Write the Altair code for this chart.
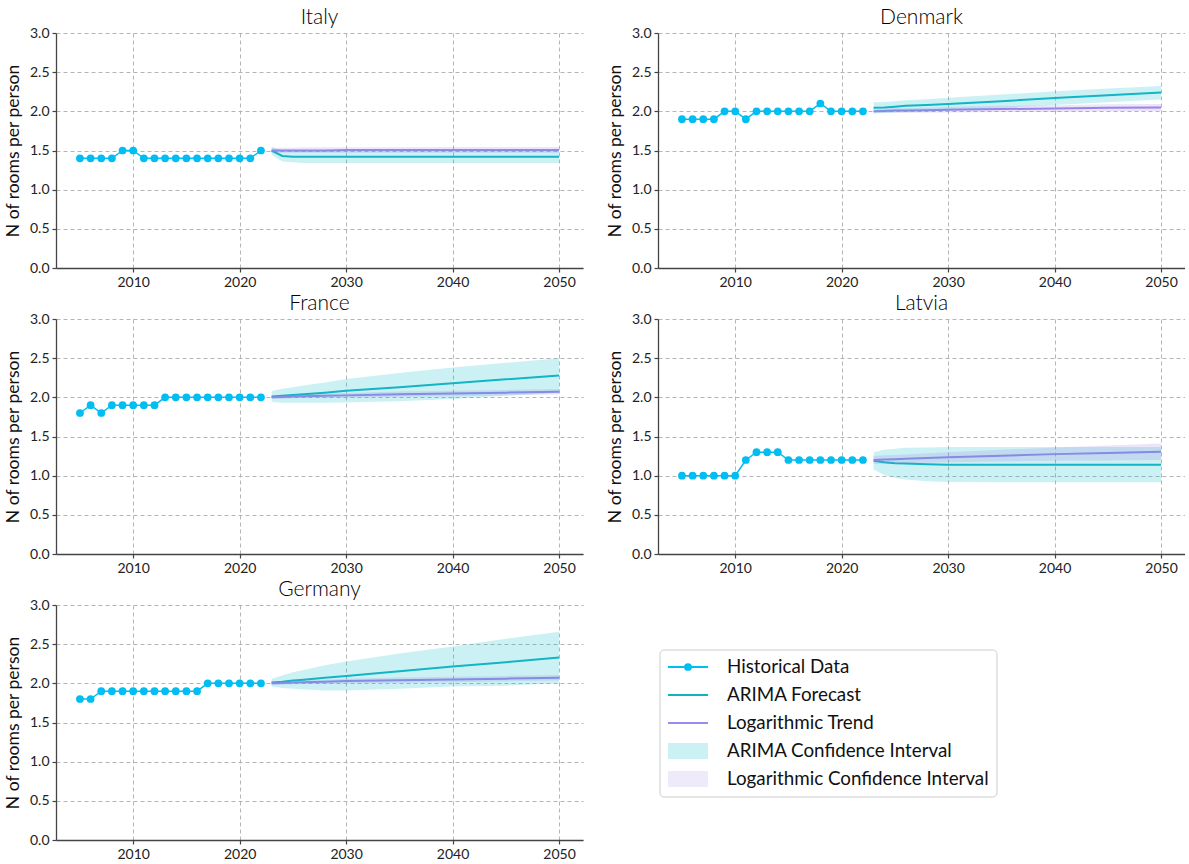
import altair as alt
import pandas as pd

FONT = "Lato"

HIST_COLOR = "#00BDF2"
ARIMA_COLOR = "#12B2C2"
LOG_COLOR = "#9C88EE"
ARIMA_FILL = "#17BECF"
LOG_FILL = "#9370DB"

HIST_YEARS = [2005, 2006, 2007, 2008, 2009, 2010, 2011, 2012, 2013,
              2014, 2015, 2016, 2017, 2018, 2019, 2020, 2021, 2022]
FC_YEARS = [2023, 2024, 2025, 2026, 2028, 2030, 2035, 2040, 2045, 2050]

# --- Italy ---
ITALY_HIST = [1.4, 1.4, 1.4, 1.4, 1.5, 1.5, 1.4, 1.4, 1.4,
              1.4, 1.4, 1.4, 1.4, 1.4, 1.4, 1.4, 1.4, 1.5]
ITALY_ARIMA = [1.50, 1.43, 1.42, 1.42, 1.42, 1.42, 1.42, 1.42, 1.42, 1.42]
ITALY_ARIMA_LO = [1.45, 1.36, 1.35, 1.34, 1.34, 1.34, 1.34, 1.34, 1.34, 1.34]
ITALY_ARIMA_HI = [1.55, 1.50, 1.50, 1.50, 1.50, 1.50, 1.50, 1.50, 1.50, 1.50]
ITALY_LOG = [1.50, 1.50, 1.50, 1.50, 1.50, 1.505, 1.505, 1.505, 1.505, 1.505]
ITALY_LOG_LO = [1.47, 1.47, 1.47, 1.47, 1.47, 1.47, 1.47, 1.47, 1.47, 1.47]
ITALY_LOG_HI = [1.53, 1.535, 1.535, 1.54, 1.54, 1.54, 1.54, 1.545, 1.545, 1.545]

# --- Denmark ---
DENMARK_HIST = [1.9, 1.9, 1.9, 1.9, 2.0, 2.0, 1.9, 2.0, 2.0,
                2.0, 2.0, 2.0, 2.0, 2.1, 2.0, 2.0, 2.0, 2.0]
DENMARK_ARIMA = [2.045, 2.05, 2.06, 2.07, 2.08, 2.095, 2.13, 2.17, 2.205, 2.24]
DENMARK_ARIMA_LO = [1.975, 1.98, 1.985, 1.99, 2.0, 2.01, 2.045, 2.08, 2.115, 2.15]
DENMARK_ARIMA_HI = [2.115, 2.12, 2.13, 2.14, 2.155, 2.175, 2.215, 2.255, 2.29, 2.325]
DENMARK_LOG = [2.00, 2.005, 2.01, 2.01, 2.015, 2.02, 2.03, 2.035, 2.045, 2.05]
DENMARK_LOG_LO = [1.975, 1.978, 1.982, 1.98, 1.983, 1.985, 1.99, 1.993, 2.0, 2.005]
DENMARK_LOG_HI = [2.025, 2.032, 2.038, 2.04, 2.047, 2.055, 2.07, 2.077, 2.09, 2.095]

# --- France ---
FRANCE_HIST = [1.8, 1.9, 1.8, 1.9, 1.9, 1.9, 1.9, 1.9, 2.0,
               2.0, 2.0, 2.0, 2.0, 2.0, 2.0, 2.0, 2.0, 2.0]
FRANCE_ARIMA = [2.01, 2.02, 2.03, 2.04, 2.06, 2.085, 2.13, 2.18, 2.23, 2.28]
FRANCE_ARIMA_LO = [1.94, 1.93, 1.93, 1.93, 1.93, 1.935, 1.95, 1.98, 2.02, 2.06]
FRANCE_ARIMA_HI = [2.08, 2.11, 2.13, 2.15, 2.19, 2.235, 2.31, 2.38, 2.44, 2.50]
FRANCE_LOG = [2.00, 2.005, 2.01, 2.015, 2.02, 2.025, 2.04, 2.05, 2.06, 2.07]
FRANCE_LOG_LO = [1.98, 1.983, 1.987, 1.99, 1.993, 1.995, 2.007, 2.015, 2.025, 2.035]
FRANCE_LOG_HI = [2.02, 2.027, 2.033, 2.04, 2.047, 2.055, 2.073, 2.085, 2.095, 2.105]

# --- Latvia ---
LATVIA_HIST = [1.0, 1.0, 1.0, 1.0, 1.0, 1.0, 1.2, 1.3, 1.3,
               1.3, 1.2, 1.2, 1.2, 1.2, 1.2, 1.2, 1.2, 1.2]
LATVIA_ARIMA = [1.19, 1.17, 1.16, 1.155, 1.145, 1.14, 1.14, 1.14, 1.14, 1.14]
LATVIA_ARIMA_LO = [1.08, 1.01, 0.97, 0.95, 0.93, 0.92, 0.915, 0.915, 0.915, 0.915]
LATVIA_ARIMA_HI = [1.30, 1.33, 1.345, 1.355, 1.36, 1.365, 1.365, 1.365, 1.365, 1.365]
LATVIA_LOG = [1.20, 1.205, 1.21, 1.215, 1.225, 1.235, 1.255, 1.275, 1.29, 1.305]
LATVIA_LOG_LO = [1.15, 1.15, 1.155, 1.16, 1.165, 1.17, 1.18, 1.19, 1.195, 1.20]
LATVIA_LOG_HI = [1.25, 1.26, 1.265, 1.27, 1.285, 1.30, 1.33, 1.36, 1.385, 1.41]

# --- Germany ---
GERMANY_HIST = [1.8, 1.8, 1.9, 1.9, 1.9, 1.9, 1.9, 1.9, 1.9,
                1.9, 1.9, 1.9, 2.0, 2.0, 2.0, 2.0, 2.0, 2.0]
GERMANY_ARIMA = [2.01, 2.02, 2.035, 2.045, 2.07, 2.095, 2.155, 2.215, 2.27, 2.33]
GERMANY_ARIMA_LO = [1.96, 1.94, 1.93, 1.92, 1.91, 1.91, 1.93, 1.96, 1.97, 2.00]
GERMANY_ARIMA_HI = [2.06, 2.10, 2.14, 2.17, 2.23, 2.28, 2.38, 2.47, 2.57, 2.66]
GERMANY_LOG = [2.00, 2.005, 2.01, 2.015, 2.02, 2.03, 2.04, 2.05, 2.06, 2.07]
GERMANY_LOG_LO = [1.98, 1.983, 1.987, 1.99, 1.993, 2.0, 2.007, 2.015, 2.025, 2.035]
GERMANY_LOG_HI = [2.02, 2.027, 2.033, 2.04, 2.047, 2.06, 2.073, 2.085, 2.095, 2.105]

LEGEND_LABELS = ["Historical Data", "ARIMA Forecast", "Logarithmic Trend",
                 "ARIMA Confidence Interval", "Logarithmic Confidence Interval"]

X_TICKS = [2010, 2020, 2030, 2040, 2050]
Y_TICKS = [0.0, 0.5, 1.0, 1.5, 2.0, 2.5, 3.0]

PANEL_W = 527
PANEL_H = 235
TITLE_Y = -15  # title centre, pixels above the plot area

x_scale = alt.Scale(domain=[2002.75, 2052.25], nice=False, zero=False)
y_scale = alt.Scale(domain=[0, 3], nice=False)
x_axis = alt.Axis(values=X_TICKS, format="d", title=None)
y_axis = alt.Axis(values=Y_TICKS, format=".1f", title="N of rooms per person")


def X(field="year"):
    return alt.X(f"{field}:Q", scale=x_scale, axis=x_axis)


def Y(field):
    return alt.Y(f"{field}:Q", scale=y_scale, axis=y_axis)


def title_mark(text):
    return alt.Chart(pd.DataFrame({"t": [text]})).mark_text(
        font=FONT, fontSize=21, fontWeight=300, color="black",
        align="center", baseline="middle").encode(
        text="t:N", x=alt.value(PANEL_W / 2), y=alt.value(TITLE_Y))


def panel(name, hist, arima, arima_lo, arima_hi, log, log_lo, log_hi):
    hist_df = pd.DataFrame({"year": HIST_YEARS, "value": hist})
    fc_df = pd.DataFrame({
        "year": FC_YEARS, "arima": arima, "arima_lo": arima_lo,
        "arima_hi": arima_hi, "log": log, "log_lo": log_lo, "log_hi": log_hi,
    })
    hist_line = alt.Chart(hist_df).mark_line(
        color=HIST_COLOR, strokeWidth=1.5).encode(x=X(), y=Y("value"))
    hist_pts = alt.Chart(hist_df).mark_point(
        filled=True, color=HIST_COLOR, size=60, opacity=1).encode(x=X(), y=Y("value"))
    arima_line = alt.Chart(fc_df).mark_line(
        color=ARIMA_COLOR, strokeWidth=2).encode(x=X(), y=Y("arima"))
    log_line = alt.Chart(fc_df).mark_line(
        color=LOG_COLOR, strokeWidth=2).encode(x=X(), y=Y("log"))
    arima_band = alt.Chart(fc_df).mark_area(
        color=ARIMA_FILL, opacity=0.22).encode(
        x=X(), y=Y("arima_lo"), y2="arima_hi")
    log_band = alt.Chart(fc_df).mark_area(
        color=LOG_FILL, opacity=0.18).encode(
        x=X(), y=Y("log_lo"), y2="log_hi")
    return alt.layer(
        hist_line, hist_pts, arima_line, log_line, arima_band, log_band,
        title_mark(name),
    ).properties(width=PANEL_W, height=PANEL_H)


def legend_panel():
    df = pd.DataFrame({"label": LEGEND_LABELS, "row": [0, 1, 2, 3, 4]})
    px_x = alt.Scale(domain=[0, PANEL_W], range=[0, PANEL_W])
    px_y = alt.Scale(domain=[0, PANEL_H], range=[0, PANEL_H])
    row_scale = alt.Scale(domain=[0, 4], range=[62, 174])
    row_y = alt.Y("row:Q", scale=row_scale, axis=None)

    frame = alt.Chart(df.head(1)).mark_rect(
        fill="white", stroke="#cccccc", strokeWidth=1, cornerRadius=4).encode(
        x=alt.X(datum=54, scale=px_x, axis=None), x2=alt.X2(datum=391),
        y=alt.Y(datum=45, scale=px_y, axis=None), y2=alt.Y2(datum=192))
    lines = alt.Chart(df[df.row < 3]).mark_rule(strokeWidth=2).encode(
        x=alt.X(datum=62, scale=px_x, axis=None), x2=alt.X2(datum=102), y=row_y,
        color=alt.Color("label:N", legend=None, scale=alt.Scale(
            domain=LEGEND_LABELS[:3], range=[HIST_COLOR, ARIMA_COLOR, LOG_COLOR])))
    dot = alt.Chart(df[df.row == 0]).mark_point(
        filled=True, color=HIST_COLOR, size=60, opacity=1).encode(
        x=alt.X(datum=82, scale=px_x, axis=None), y=row_y)
    patches = alt.Chart(df[df.row >= 3]).mark_point(
        shape="M-1,-0.4L1,-0.4L1,0.4L-1,0.4Z", size=1600, filled=True).encode(
        x=alt.X(datum=82, scale=px_x, axis=None), y=row_y,
        fill=alt.Fill("label:N", legend=None, scale=alt.Scale(
            domain=LEGEND_LABELS[3:], range=[ARIMA_FILL, LOG_FILL])),
        opacity=alt.Opacity("label:N", legend=None, scale=alt.Scale(
            domain=LEGEND_LABELS[3:], range=[0.22, 0.15])))
    texts = alt.Chart(df).mark_text(
        align="left", baseline="middle", font=FONT, fontSize=18.8, color="#111").encode(
        x=alt.X(datum=121, scale=px_x, axis=None), y=row_y, text="label:N")
    return alt.layer(
        frame, lines, dot, patches, texts, title_mark(" ")
    ).resolve_scale(x="shared", y="independent").properties(
        width=PANEL_W, height=PANEL_H)


italy = panel("Italy", ITALY_HIST, ITALY_ARIMA, ITALY_ARIMA_LO, ITALY_ARIMA_HI,
              ITALY_LOG, ITALY_LOG_LO, ITALY_LOG_HI)
denmark = panel("Denmark", DENMARK_HIST, DENMARK_ARIMA, DENMARK_ARIMA_LO, DENMARK_ARIMA_HI,
                DENMARK_LOG, DENMARK_LOG_LO, DENMARK_LOG_HI)
france = panel("France", FRANCE_HIST, FRANCE_ARIMA, FRANCE_ARIMA_LO, FRANCE_ARIMA_HI,
               FRANCE_LOG, FRANCE_LOG_LO, FRANCE_LOG_HI)
latvia = panel("Latvia", LATVIA_HIST, LATVIA_ARIMA, LATVIA_ARIMA_LO, LATVIA_ARIMA_HI,
               LATVIA_LOG, LATVIA_LOG_LO, LATVIA_LOG_HI)
germany = panel("Germany", GERMANY_HIST, GERMANY_ARIMA, GERMANY_ARIMA_LO, GERMANY_ARIMA_HI,
                GERMANY_LOG, GERMANY_LOG_LO, GERMANY_LOG_HI)

chart = alt.vconcat(
    alt.hconcat(italy, denmark, spacing=23),
    alt.hconcat(france, latvia, spacing=23),
    alt.hconcat(germany, legend_panel(), spacing=23),
    spacing=4,
).properties(
    padding={"left": 4, "top": 7, "right": 0, "bottom": 2},
    background="white",
).configure_view(
    stroke=None,
).configure_axis(
    labelFont=FONT, titleFont=FONT, labelFontSize=14, titleFontSize=17.5,
    titleFontWeight="normal", labelColor="#222222", titleColor="#111111",
    domainColor="#444444", domainWidth=1.3, tickColor="#444444", tickSize=4,
    tickWidth=1.2, labelPadding=3, titlePadding=7,
    grid=True, gridColor="#b5b5b5", gridDash=[4, 3], gridWidth=1,
)

chart.save("out.html", embed_options={"renderer": "svg", "actions": False})
